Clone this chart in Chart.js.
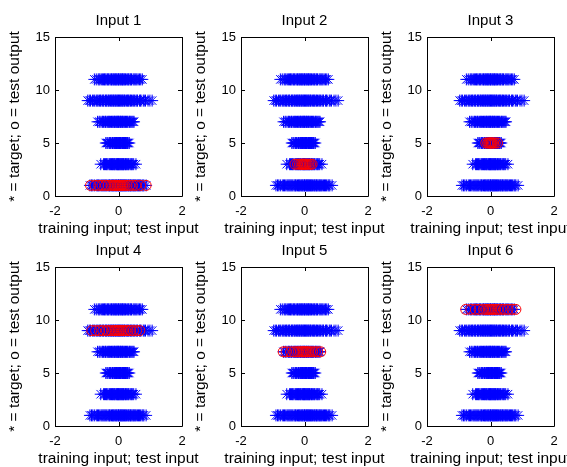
<!DOCTYPE html>
<html>
<head>
<meta charset="utf-8">
<script src="https://cdn.jsdelivr.net/npm/chart.js@4"></script>
<style>
  html, body { margin: 0; padding: 0; background: #fff; overflow: hidden; }
  #wrap { position: relative; width: 567px; height: 467px; }
  #wrap canvas { position: absolute; }
</style>
</head>
<body>
<div id="wrap"></div>
<script>
// tick labels
const xTicks = [-2, 0, 2];
const yTicks = [0, 5, 10, 15];

const levels = [1, 3, 5, 7, 9, 11];
const trainX1 = [-0.9, -0.85, -0.81, -0.76, -0.7, -0.66, -0.63, -0.59, -0.55, -0.52, -0.49, -0.46, -0.43, -0.4, -0.37, -0.33, -0.3, -0.28, -0.26, -0.22, -0.19, -0.17, -0.15, -0.12, -0.09, -0.07, -0.05, -0.02, 0.0, 0.01, 0.04, 0.06, 0.08, 0.1, 0.12, 0.14, 0.16, 0.19, 0.21, 0.23, 0.25, 0.29, 0.31, 0.33, 0.36, 0.38, 0.4, 0.43, 0.46, 0.48, 0.51, 0.53, 0.56, 0.6, 0.63, 0.66, 0.69, 0.74, 0.77, 0.8, 0.87];
const trainX3 = [-0.56, -0.47, -0.44, -0.41, -0.38, -0.36, -0.33, -0.29, -0.27, -0.25, -0.22, -0.2, -0.19, -0.16, -0.14, -0.12, -0.11, -0.08, -0.06, -0.04, -0.03, -0.01, 0.0, 0.02, 0.04, 0.05, 0.07, 0.09, 0.11, 0.12, 0.14, 0.16, 0.17, 0.2, 0.22, 0.24, 0.26, 0.29, 0.31, 0.33, 0.37, 0.4, 0.42, 0.45, 0.48, 0.55];
const trainX5 = [-0.4, -0.36, -0.33, -0.28, -0.26, -0.24, -0.2, -0.19, -0.17, -0.14, -0.12, -0.11, -0.09, -0.07, -0.06, -0.04, -0.02, -0.01, 0.01, 0.02, 0.03, 0.06, 0.07, 0.08, 0.11, 0.12, 0.13, 0.16, 0.17, 0.19, 0.22, 0.24, 0.26, 0.28, 0.3, 0.34];
const trainX7 = [-0.66, -0.61, -0.58, -0.52, -0.5, -0.47, -0.43, -0.41, -0.39, -0.35, -0.32, -0.3, -0.28, -0.25, -0.22, -0.2, -0.18, -0.15, -0.13, -0.12, -0.1, -0.07, -0.05, -0.04, -0.02, 0.0, 0.01, 0.04, 0.06, 0.07, 0.09, 0.12, 0.13, 0.15, 0.18, 0.2, 0.22, 0.25, 0.27, 0.29, 0.33, 0.35, 0.37, 0.4, 0.43, 0.46, 0.49];
const trainX9 = [-0.97, -0.92, -0.88, -0.82, -0.78, -0.75, -0.7, -0.67, -0.64, -0.6, -0.57, -0.55, -0.5, -0.48, -0.46, -0.41, -0.39, -0.37, -0.33, -0.31, -0.29, -0.25, -0.23, -0.21, -0.18, -0.16, -0.14, -0.11, -0.09, -0.07, -0.04, -0.02, 0.0, 0.03, 0.05, 0.07, 0.1, 0.12, 0.14, 0.17, 0.19, 0.21, 0.25, 0.28, 0.3, 0.32, 0.36, 0.38, 0.41, 0.45, 0.48, 0.5, 0.55, 0.58, 0.6, 0.66, 0.69, 0.71, 0.78, 0.81, 0.85, 0.93, 0.99, 1.06];
const trainX11 = [-0.76, -0.7, -0.64, -0.61, -0.58, -0.53, -0.5, -0.47, -0.44, -0.42, -0.39, -0.35, -0.33, -0.31, -0.27, -0.24, -0.22, -0.2, -0.17, -0.15, -0.13, -0.1, -0.08, -0.07, -0.04, -0.01, 0.0, 0.02, 0.05, 0.07, 0.09, 0.12, 0.13, 0.15, 0.18, 0.2, 0.22, 0.26, 0.29, 0.31, 0.33, 0.37, 0.39, 0.41, 0.46, 0.49, 0.52, 0.55, 0.58, 0.62, 0.66, 0.7, 0.75];
const trainX = [trainX1, trainX3, trainX5, trainX7, trainX9, trainX11];

// test output per panel
const panelTitles = ["Input 1", "Input 2", "Input 3", "Input 4", "Input 5", "Input 6"];
const testLevel = [1, 3, 5, 9, 7, 11];
const testX1 = [-0.88, -0.74, -0.62, -0.52, -0.41, -0.33, -0.24, -0.18, -0.13, -0.09, -0.05, -0.02, 0.01, 0.04, 0.07, 0.11, 0.15, 0.2, 0.27, 0.35, 0.44, 0.55, 0.7, 0.87];
const testX2 = [-0.3, -0.22, -0.16, -0.11, -0.07, -0.04, -0.01, 0.02, 0.05, 0.09, 0.14, 0.19, 0.24];
const testX3 = [-0.15, -0.09, -0.05, -0.02, 0.01, 0.03, 0.06, 0.1, 0.15, 0.22];
const testX4 = [-0.84, -0.72, -0.6, -0.49, -0.38, -0.3, -0.22, -0.15, -0.1, -0.05, -0.01, 0.03, 0.07, 0.12, 0.17, 0.23, 0.3, 0.38, 0.47, 0.57, 0.67];
const testX5 = [-0.67, -0.58, -0.44, -0.33, -0.25, -0.19, -0.13, -0.08, -0.04, 0.0, 0.04, 0.08, 0.13, 0.19, 0.26, 0.34, 0.42, 0.51];
const testX6 = [-0.78, -0.62, -0.48, -0.36, -0.22, -0.14, -0.08, -0.03, 0.01, 0.05, 0.1, 0.16, 0.24, 0.33, 0.43, 0.55, 0.68, 0.8];
const testX = [testX1, testX2, testX3, testX4, testX5, testX6];

const xLabel = "training input; test input";
const yLabel = "* = target; o = test output";

const colLeft = [55, 241, 427];
const rowTop = [37, 267];
const FONT = "'Liberation Sans', Arial, sans-serif";

// matlab style box with inward ticks on all four sides, plus axis labels
// (drawn here so they are not squeezed to the axis length)
const boxPlugin = {
  id: "box",
  afterDraw(chart) {
    const { ctx, chartArea: a, scales } = chart;
    const t = 4;
    ctx.save();
    ctx.strokeStyle = "#000";
    ctx.lineWidth = 1;
    ctx.beginPath();
    ctx.rect(a.left + 0.5, a.top + 0.5, a.right - a.left, a.bottom - a.top);
    xTicks.forEach((v) => {
      const px = Math.round(scales.x.getPixelForValue(v)) + 0.5;
      ctx.moveTo(px, a.bottom); ctx.lineTo(px, a.bottom - t);
      ctx.moveTo(px, a.top); ctx.lineTo(px, a.top + t);
    });
    yTicks.forEach((v) => {
      const py = Math.round(scales.y.getPixelForValue(v)) + 0.5;
      ctx.moveTo(a.left, py); ctx.lineTo(a.left + t, py);
      ctx.moveTo(a.right, py); ctx.lineTo(a.right - t, py);
    });
    ctx.stroke();

    ctx.fillStyle = "#000";
    ctx.font = "15.5px " + FONT;
    ctx.textAlign = "center";
    ctx.textBaseline = "middle";
    ctx.fillText(xLabel, (a.left + a.right) / 2, a.bottom + 33);
    ctx.translate(14.5, (a.top + a.bottom) / 2);
    ctx.rotate(-Math.PI / 2);
    ctx.fillText(yLabel, 0, 0);
    ctx.restore();
  },
};

const wrap = document.getElementById("wrap");

panelTitles.forEach((title, k) => {
  const cv = document.createElement("canvas");
  cv.width = 200;
  cv.height = 241;
  cv.style.left = colLeft[k % 3] - 55 + "px";
  cv.style.top = rowTop[Math.floor(k / 3)] - 37 + "px";
  wrap.appendChild(cv);

  const stars = [];
  levels.forEach((lv, i) => {
    trainX[i].forEach((x) => stars.push({ x: x, y: lv }));
  });
  const circles = testX[k].map((x) => ({ x: x, y: testLevel[k] }));

  new Chart(cv.getContext("2d"), {
    type: "scatter",
    data: {
      datasets: [
        {
          label: "test output",
          data: circles,
          pointStyle: "circle",
          pointRadius: 5,
          borderColor: "#ff0000",
          backgroundColor: "rgba(0,0,0,0)",
          borderWidth: 1,
        },
        {
          label: "target",
          data: stars,
          pointStyle: "star",
          pointRadius: 6,
          borderColor: "#0000ff",
          backgroundColor: "#0000ff",
          borderWidth: 1,
        },
      ],
    },
    options: {
      responsive: false,
      animation: false,
      events: [],
      layout: { padding: { left: 0, right: 18, top: 0, bottom: 0 } },
      plugins: {
        legend: { display: false },
        tooltip: { enabled: false },
        title: {
          display: true,
          text: title,
          color: "#000",
          fullSize: false,
          font: { family: FONT, size: 15, weight: "normal" },
          padding: { top: 12, bottom: 7 },
        },
      },
      scales: {
        x: {
          type: "linear",
          min: -2,
          max: 2,
          afterBuildTicks: (s) => { s.ticks = xTicks.map((v) => ({ value: v })); },
          afterFit: (s) => { s.height = 45; },
          grid: { display: false, drawTicks: false },
          border: { display: false },
          ticks: { color: "#000", padding: 8, maxRotation: 0, font: { family: FONT, size: 13 } },
        },
        y: {
          type: "linear",
          min: 0,
          max: 15,
          afterBuildTicks: (s) => { s.ticks = yTicks.map((v) => ({ value: v })); },
          afterFit: (s) => { s.width = 55; },
          grid: { display: false, drawTicks: false },
          border: { display: false },
          ticks: { color: "#000", padding: 5, font: { family: FONT, size: 13 } },
        },
      },
    },
    plugins: [boxPlugin],
  });
});
</script>
</body>
</html>
